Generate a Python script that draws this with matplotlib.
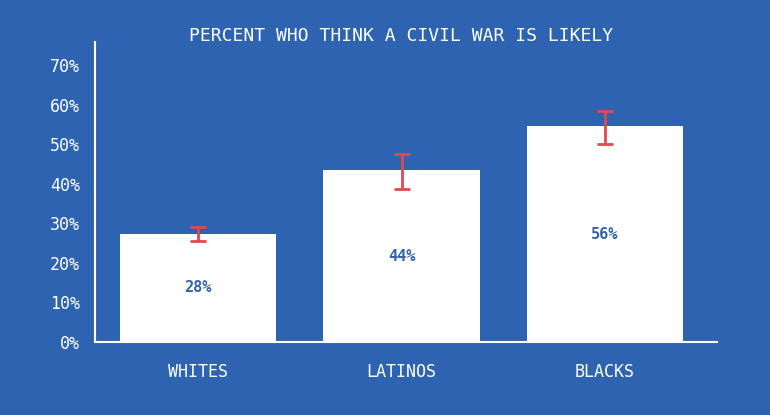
import numpy as np
import matplotlib
matplotlib.use("Agg")
import matplotlib.pyplot as plt

# data
groups = ["WHITES", "LATINOS", "BLACKS"]
bar_values = [27.3, 43.4, 54.5]
bar_labels = ["28%", "44%", "56%"]
err_low = [1.8, 4.7, 4.5]
err_high = [1.7, 4.2, 3.9]
y_ticks = [0, 10, 20, 30, 40, 50, 60, 70]

bg = "#2d63b0"
mono = ["DejaVu Sans Mono"]

fig = plt.figure(figsize=(7.7, 4.15), dpi=100, facecolor=bg)
ax = fig.add_axes([95 / 770, 73 / 415, (717 - 95) / 770, (342 - 42) / 415])
ax.set_facecolor(bg)

x = np.arange(len(groups))
ax.bar(x, bar_values, width=0.767, color="white", zorder=2)
ax.errorbar(x, bar_values, yerr=[err_low, err_high], fmt="none",
            ecolor="#dd4b4f", elinewidth=2, capsize=5.5, capthick=2, zorder=3)

for xi, v, lab in zip(x, bar_values, bar_labels):
    ax.text(xi, v / 2, lab, ha="center", va="center", color="#3563a8",
            fontsize=11, fontweight="bold", family=mono)

ax.set_xlim(-0.506, 2.55)
ax.set_ylim(0, 75.8)
ax.set_xticks(x)
ax.set_xticklabels(groups)
ax.set_yticks(y_ticks)
ax.set_yticklabels([f"{t}%" for t in y_ticks])

for lab in ax.get_xticklabels() + ax.get_yticklabels():
    lab.set_family(mono)
    lab.set_color("white")
    lab.set_fontsize(12)
ax.tick_params(axis="both", length=0)
ax.tick_params(axis="y", pad=11)
ax.tick_params(axis="x", pad=15)

for s in ["top", "right"]:
    ax.spines[s].set_visible(False)
for s in ["left", "bottom"]:
    ax.spines[s].set_color("white")
    ax.spines[s].set_linewidth(1.5)

fig.text(401.5 / 770, 1 - 36 / 415, "PERCENT WHO THINK A CIVIL WAR IS LIKELY",
         ha="center", va="center", color="white", fontsize=13, family=mono)

fig.savefig("out.png", facecolor=bg)
